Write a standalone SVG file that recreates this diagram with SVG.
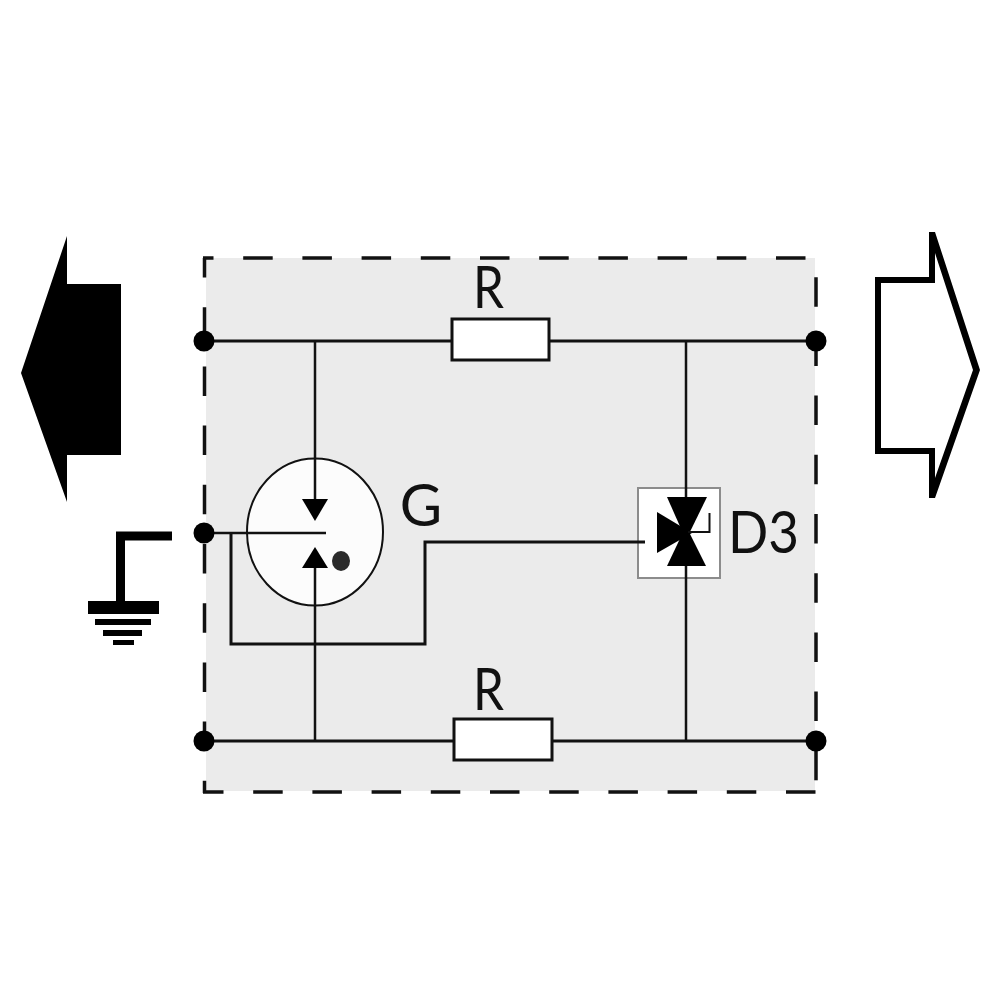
<svg xmlns="http://www.w3.org/2000/svg" width="1000" height="1000" viewBox="0 0 1000 1000">
<style>
.w{fill:none;stroke:#111;stroke-width:3}
.v{fill:none;stroke:#111;stroke-width:2.500}
.k{fill:#000}
.t{font-family:"Lato","Noto Sans",sans-serif;font-size:58px;fill:#111}
.box{fill:#fff;stroke:#111;stroke-width:3}
.d{fill:none;stroke:#111;stroke-width:3.500;stroke-dasharray:29.500 29.700}
</style>
<rect width="1000" height="1000" fill="#fff"/>
<g id="enclosure"><rect x="206" y="258" width="609" height="533" fill="#ebebeb"/>
<path class="d" d="M203 258H816" stroke-dashoffset="19"/>
<path class="d" d="M816 258V792" stroke-dashoffset="40"/>
<path class="d" d="M203 792H816" stroke-dashoffset="9"/>
<path class="d" d="M204.500 258V793" stroke-dashoffset="10"/></g>
<g id="D3-box"><rect x="638" y="488" width="82" height="90" fill="#fff" stroke="#8c8c8c" stroke-width="2"/></g>
<g id="connectors">
<path class="w" d="M204 341H816M204 741H816M231 533V644H425V542H645"/>
<path class="v" d="M315 341V520M315 741V560M204 533H326M686 341V500M686 565V741"/>
</g>
<g id="arrow-left"><polygon class="k" points="21,373 67,236 67,284 121,284 121,455 67,455 67,502"/></g>
<g id="arrow-right"><path fill="#000" fill-rule="evenodd" d="M929 232H935L980 370L935 498H929V454H875V277H929ZM881 283V448H935V478L973 370L935 253V283Z"/></g>
<g id="ground"><path d="M172 536H120.500V603" fill="none" stroke="#000" stroke-width="9"/><rect class="k" x="88" y="601" width="71" height="13"/><rect class="k" x="95" y="619" width="56" height="6"/><rect class="k" x="103" y="630" width="39" height="6"/><rect class="k" x="113" y="640" width="21" height="5"/></g>
<g id="terminals"><circle class="k" cx="204" cy="341" r="10.500"/><circle class="k" cx="816" cy="341" r="10.500"/><circle class="k" cx="204" cy="533" r="10.500"/><circle class="k" cx="204" cy="741" r="10.500"/><circle class="k" cx="816" cy="741" r="10.500"/></g>
<g id="R-top"><rect class="box" x="452" y="319" width="97" height="41"/><text class="t" x="473" y="308" textLength="31" lengthAdjust="spacingAndGlyphs">R</text></g>
<g id="R-bottom"><rect class="box" x="454" y="719" width="98" height="41"/><text class="t" x="473" y="710" textLength="31" lengthAdjust="spacingAndGlyphs">R</text></g>
<g id="G">
<ellipse cx="315" cy="532" rx="68" ry="73.500" fill="#fcfcfc" stroke="#111" stroke-width="2"/>
<path class="v" d="M315 458V505M315 605V560M246 533H326"/>
<polygon class="k" points="302,499 328,499 315,521"/>
<polygon class="k" points="302,568 328,568 315,547"/>
<ellipse cx="341" cy="561" rx="9" ry="10" fill="#2a2a2a"/>
<text class="t" x="421" y="526" text-anchor="middle">G</text>
</g>
<g id="D3">
<polygon class="k" points="667,497 707,497 686,540"/>
<polygon class="k" points="667,566 706,566 686,526"/>
<polygon class="k" points="657,512 692,533 657,553"/>
<path d="M688 532H709.500V513" fill="none" stroke="#111" stroke-width="2"/>
<text class="t" x="728" y="553" textLength="71" lengthAdjust="spacingAndGlyphs">D3</text>
</g>
</svg>
